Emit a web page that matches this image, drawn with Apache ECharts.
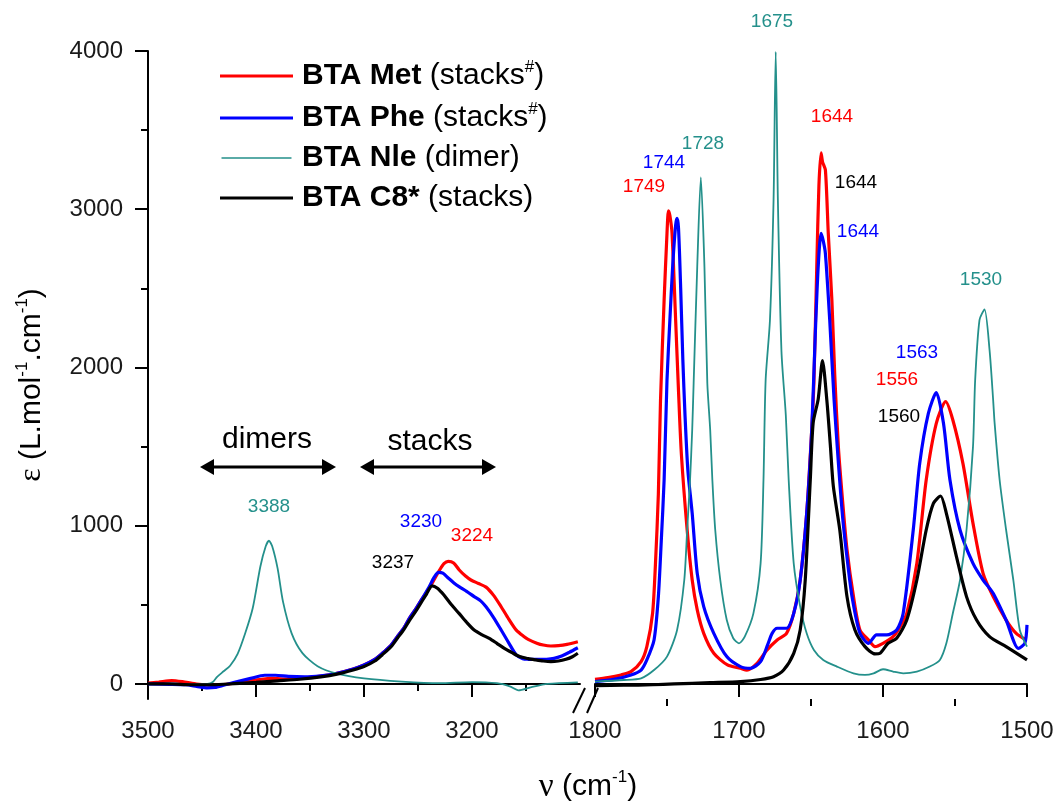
<!DOCTYPE html>
<html>
<head>
<meta charset="utf-8">
<script src="https://cdn.jsdelivr.net/npm/echarts@6/dist/echarts.min.js"></script>
<style>html,body{margin:0;padding:0;background:#fff}#c{width:1059px;height:807px}</style>
</head>
<body>
<div id="c"></div>
<script>
// ---------- DATA ----------
const seriesNames = ['BTA Met', 'BTA Phe', 'BTA Nle', 'BTA C8*'];
const nhTicks = [3500, 3400, 3300, 3200];
const nhMinorTicks = [3450, 3350, 3250, 3150];
const amideTicks = [1800, 1700, 1600, 1500];
const amideMinorTicks = [1750, 1650, 1550];
const yTicks = [0, 1000, 2000, 3000, 4000];
const yMinorTicks = [500, 1500, 2500, 3500];

// N-H stretching region [wavenumber, epsilon]
const metNH = [[3500,5],[3490,12],[3478,22],[3466,12],[3455,0],[3440,-8],[3425,0],[3410,15],[3395,30],[3385,35],[3370,30],[3355,38],[3340,50],[3325,68],[3310,95],[3300,120],[3290,155],[3283,194],[3275,245],[3269,300],[3263,355],[3258,415],[3252,475],[3247,530],[3240,600],[3235,660],[3230,720],[3226,760],[3222,775],[3217,765],[3212,722],[3206,682],[3201,657],[3194,635],[3187,612],[3180,560],[3173,488],[3166,410],[3159,340],[3152,300],[3148,282],[3140,258],[3134,246],[3127,240],[3120,242],[3112,250],[3102,267]];
const pheNH = [[3500,0],[3480,-2],[3465,-5],[3455,-15],[3445,-25],[3438,-22],[3430,-8],[3420,10],[3405,35],[3392,55],[3382,55],[3370,48],[3355,45],[3340,52],[3325,68],[3310,95],[3300,120],[3290,155],[3283,194],[3275,245],[3269,300],[3263,355],[3258,415],[3252,475],[3247,530],[3240,610],[3235,675],[3231,705],[3227,700],[3222,670],[3217,640],[3212,615],[3205,585],[3198,552],[3192,525],[3187,488],[3180,420],[3173,341],[3166,260],[3159,183],[3153,160],[3148,156],[3140,155],[3131,156],[3124,162],[3117,177],[3110,200],[3102,229]];
const nleNH = [[3500,0],[3480,0],[3460,-2],[3445,0],[3440,12],[3436,45],[3430,80],[3424,115],[3417,190],[3410,320],[3403,480],[3396,741],[3391,870],[3388,905],[3385,870],[3380,730],[3375,520],[3367,320],[3357,195],[3343,112],[3325,65],[3300,35],[3265,15],[3230,5],[3200,12],[3177,5],[3165,-15],[3157,-40],[3145,-20],[3130,0],[3102,10]];
const c8NH = [[3500,0],[3480,0],[3460,-5],[3440,-5],[3420,2],[3400,10],[3380,20],[3360,30],[3340,45],[3325,62],[3310,88],[3300,110],[3290,145],[3283,185],[3275,235],[3269,290],[3263,345],[3258,400],[3252,460],[3247,515],[3242,570],[3237,620],[3232,605],[3226,562],[3219,500],[3212,446],[3205,390],[3198,341],[3191,312],[3184,288],[3177,257],[3170,225],[3163,198],[3156,173],[3148,160],[3141,152],[3134,145],[3127,141],[3120,145],[3113,156],[3107,172],[3102,194]];

// Amide region [wavenumber, epsilon]
const metAmide = [[1800,29],[1791,40],[1782,57],[1775,78],[1768,141],[1764,236],[1760,447],[1758,762],[1756,1200],[1754.5,1794],[1752,2426],[1750,2848],[1749,2990],[1748,2960],[1746.5,2848],[1744,2300],[1742,1850],[1740,1450],[1736,973],[1732.5,657],[1729,468],[1724.5,320],[1717.5,194],[1708,120],[1699,99],[1694.5,88],[1687.5,130],[1680.5,215],[1673.5,278],[1667,320],[1662,446],[1657.5,657],[1653,1078],[1649.5,1605],[1648,1900],[1646,2637],[1644.5,3150],[1643,3357],[1642,3300],[1640,3248],[1638,2847],[1635.5,2426],[1633.5,1950],[1631,1500],[1628,1150],[1625,850],[1620.5,552],[1616,341],[1610,278],[1605.5,236],[1600,257],[1593,299],[1588,362],[1583.5,446],[1576.5,762],[1570,1289],[1563,1647],[1556.5,1784],[1551.5,1668],[1544.5,1394],[1537.5,1015],[1530.5,699],[1523.5,552],[1514.5,404],[1507.5,320],[1500.5,278]];
const pheAmide = [[1800,15],[1787,29],[1775,57],[1768,88],[1764,152],[1759,278],[1756,552],[1754,900],[1752,1289],[1750,1921],[1748,2300],[1746,2650],[1744,2900],[1743,2942],[1742,2880],[1740.5,2500],[1739,2050],[1737.5,1700],[1735.5,1350],[1732.5,1078],[1729,699],[1724.5,489],[1717.5,320],[1708.5,173],[1699,110],[1692,99],[1685,141],[1680,250],[1677,320],[1673.5,352],[1667,352],[1662,446],[1657.5,657],[1653,1078],[1649.5,1605],[1647,2216],[1645,2637],[1643,2847],[1641.5,2800],[1640,2720],[1637,2300],[1634,1800],[1631,1400],[1628,1050],[1625,800],[1621.5,552],[1616,320],[1610,257],[1604.5,310],[1597.5,310],[1590.5,341],[1586,446],[1579,973],[1574.5,1394],[1568.5,1710],[1563,1841],[1558,1647],[1553.5,1289],[1546.5,973],[1537.5,762],[1530.5,657],[1523.5,573],[1514.5,404],[1506,225],[1501.5,257],[1500,373]];
const nleAmide = [[1800,15],[1780,25],[1768,36],[1759,88],[1750,173],[1743,341],[1738,657],[1736,973],[1734,1289],[1732.5,1605],[1731.5,1900],[1729,2637],[1726.5,3201],[1724,2637],[1722,1900],[1720,1605],[1718.5,1289],[1716.5,973],[1713,657],[1708.5,404],[1704,289],[1700,257],[1696,299],[1690,446],[1685,762],[1683,1289],[1681.5,1921],[1678.5,2300],[1676,3058],[1674.5,3995],[1673,3058],[1670.5,2100],[1667.5,1700],[1665.5,1289],[1662,762],[1657.5,489],[1653,320],[1648,215],[1641.5,152],[1632,110],[1620.5,67],[1612.5,57],[1606.5,67],[1600,93],[1593,78],[1586,67],[1576.5,78],[1567.5,110],[1560.5,152],[1556,257],[1551.5,447],[1546.5,657],[1542,973],[1537.5,1500],[1536,1921],[1533,2300],[1529.5,2367],[1526,2110],[1523.5,1794],[1522.5,1650],[1519,1289],[1514.5,973],[1509.5,657],[1505,341],[1500,236]];
const c8Amide = [[1800,-10],[1780,-8],[1760,-5],[1745,0],[1720,8],[1699,15],[1685,28],[1676,46],[1669,88],[1662,194],[1657.5,341],[1654,657],[1650.5,1289],[1648.5,1650],[1645,1800],[1642,2043],[1639,1794],[1636.5,1500],[1634.5,1250],[1630,973],[1625,552],[1619.5,341],[1612.5,236],[1605.5,190],[1602,194],[1596.5,257],[1590.5,289],[1583.5,404],[1576.5,657],[1570,973],[1565,1141],[1560,1188],[1556,1078],[1549,805],[1542,552],[1535,404],[1526,299],[1514.5,236],[1500,152]];

// ---------- STYLE / LAYOUT ----------
const COLORS = ['#ff0000', '#0000ff', '#24908b', '#000000'];
const WIDTHS = [3.2, 3.2, 1.8, 3.2];
const FONT = 'Liberation Sans, Arial, sans-serif';
const SERIF = 'Liberation Serif, Times New Roman, serif';
const G = { top: 51, height: 648, leftA: 148, widthA: 432, leftB: 595, widthB: 432 };
const Y_MIN = -95, Y_MAX = 4000;

const legendText = {
  'BTA Met': '{b|BTA Met}{n| (stacks}{s|#}{n|)}',
  'BTA Phe': '{b|BTA Phe}{n| (stacks}{s|#}{n|)}',
  'BTA Nle': '{b|BTA Nle}{n| (dimer)}',
  'BTA C8*': '{b|BTA C8*}{n| (stacks)}'
};

const peakLabels = [
  { t: '1675', c: 2, x: 772, y: 22 },
  { t: '1728', c: 2, x: 703, y: 144 },
  { t: '1744', c: 1, x: 664, y: 163 },
  { t: '1749', c: 0, x: 644, y: 187 },
  { t: '1644', c: 0, x: 832, y: 117 },
  { t: '1644', c: 3, x: 856, y: 183 },
  { t: '1644', c: 1, x: 858, y: 232 },
  { t: '1530', c: 2, x: 981, y: 280 },
  { t: '1563', c: 1, x: 917, y: 353 },
  { t: '1556', c: 0, x: 897, y: 380 },
  { t: '1560', c: 3, x: 899, y: 417 },
  { t: '3388', c: 2, x: 269, y: 507 },
  { t: '3230', c: 1, x: 421, y: 522 },
  { t: '3224', c: 0, x: 472, y: 536 },
  { t: '3237', c: 3, x: 393, y: 563 }
];

const chart = echarts.init(document.getElementById('c'), null, { renderer: 'canvas' });

const axisLine = { show: true, lineStyle: { color: '#000', width: 2 } };
const labelStyle = { color: '#1a1a1a', fontSize: 24, fontFamily: FONT, formatter: v => String(v) };

function xMain(gi, min, max, ticks) {
  return {
    type: 'value', gridIndex: gi, position: 'bottom', min: min, max: max, inverse: true,
    axisLine: axisLine,
    axisTick: { show: true, inside: false, length: 13, lineStyle: { color: '#000', width: 2 }, customValues: ticks },
    axisLabel: Object.assign({ margin: 20, customValues: ticks }, labelStyle),
    splitLine: { show: false }
  };
}
function xMinor(gi, min, max, ticks) {
  return {
    type: 'value', gridIndex: gi, position: 'bottom', min: min, max: max, inverse: true,
    axisLine: { show: false },
    axisTick: { show: true, inside: false, length: 7, lineStyle: { color: '#000', width: 2 }, customValues: ticks },
    axisLabel: { show: false, customValues: ticks },
    splitLine: { show: false }
  };
}

const series = [];
const nhData = [metNH, pheNH, nleNH, c8NH];
const amData = [metAmide, pheAmide, nleAmide, c8Amide];
seriesNames.forEach((n, i) => {
  series.push({
    name: n, type: 'line', xAxisIndex: 0, yAxisIndex: 0, data: nhData[i],
    showSymbol: false, smooth: 0.25, color: COLORS[i],
    lineStyle: { color: COLORS[i], width: WIDTHS[i] }, z: 2 + i, silent: true
  });
  series.push({
    name: n, type: 'line', xAxisIndex: 2, yAxisIndex: 2, data: amData[i],
    showSymbol: false, smooth: 0.25, color: COLORS[i],
    lineStyle: { color: COLORS[i], width: WIDTHS[i] }, z: 2 + i, silent: true
  });
});

const graphics = [];
// axis break marks
graphics.push({ type: 'line', shape: { x1: 573, y1: 713, x2: 585, y2: 688 }, style: { stroke: '#000', lineWidth: 2 }, z: 100 });
graphics.push({ type: 'line', shape: { x1: 587, y1: 713, x2: 598, y2: 688 }, style: { stroke: '#000', lineWidth: 2 }, z: 100 });
// peak labels
peakLabels.forEach(p => {
  graphics.push({ type: 'text', x: p.x, y: p.y, z: 100,
    style: { text: p.t, fill: COLORS[p.c], font: '19px ' + FONT, align: 'center', verticalAlign: 'middle' } });
});
// dimers / stacks annotations
function arrow(x1, x2, y) {
  const h = 14, w = 8;
  graphics.push({ type: 'line', shape: { x1: x1 + 6, y1: y, x2: x2 - 6, y2: y }, style: { stroke: '#000', lineWidth: 3 }, z: 100 });
  graphics.push({ type: 'polygon', shape: { points: [[x1, y], [x1 + h, y - w], [x1 + h, y + w]] }, style: { fill: '#000' }, z: 100 });
  graphics.push({ type: 'polygon', shape: { points: [[x2, y], [x2 - h, y - w], [x2 - h, y + w]] }, style: { fill: '#000' }, z: 100 });
}
arrow(200, 336, 467);
arrow(360, 496, 467);
graphics.push({ type: 'text', x: 267, y: 440, z: 100, style: { text: 'dimers', fill: '#000', font: '30px ' + FONT, align: 'center', verticalAlign: 'middle' } });
graphics.push({ type: 'text', x: 430, y: 442, z: 100, style: { text: 'stacks', fill: '#000', font: '30px ' + FONT, align: 'center', verticalAlign: 'middle' } });
// axis titles
const supStyle = { fontSize: 17, fontFamily: FONT, fill: '#000', verticalAlign: 'top', lineHeight: 16 };
graphics.push({ type: 'text', x: 32, y: 385, rotation: Math.PI / 2, z: 100,
  style: { text: '{g|ε}{n| (L.mol}{s|-1}{n|.cm}{s|-1}{n|)}', align: 'center', verticalAlign: 'middle',
    rich: { g: { fontSize: 32, fontFamily: SERIF, fill: '#000', lineHeight: 36 }, n: { fontSize: 30, fontFamily: FONT, fill: '#000', lineHeight: 36 }, s: supStyle } } });
graphics.push({ type: 'text', x: 588, y: 787, z: 100,
  style: { text: '{g|ν}{n| (cm}{s|-1}{n|)}', align: 'center', verticalAlign: 'middle',
    rich: { g: { fontSize: 33, fontFamily: SERIF, fill: '#000', lineHeight: 36 }, n: { fontSize: 30, fontFamily: FONT, fill: '#000', lineHeight: 36 }, s: supStyle } } });

chart.setOption({
  animation: false,
  backgroundColor: '#fff',
  grid: [
    { left: G.leftA, top: G.top, width: G.widthA, height: G.height },
    { left: G.leftB, top: G.top, width: G.widthB, height: G.height }
  ],
  xAxis: [
    xMain(0, 3100, 3500, nhTicks),
    xMinor(0, 3100, 3500, nhMinorTicks),
    xMain(1, 1500, 1800, amideTicks),
    xMinor(1, 1500, 1800, amideMinorTicks)
  ],
  yAxis: [
    { type: 'value', gridIndex: 0, position: 'left', min: Y_MIN, max: Y_MAX, axisLine: axisLine,
      axisTick: { show: true, inside: false, length: 13, lineStyle: { color: '#000', width: 2 }, customValues: yTicks },
      axisLabel: Object.assign({ margin: 25, customValues: yTicks }, labelStyle), splitLine: { show: false } },
    { type: 'value', gridIndex: 0, min: Y_MIN, max: Y_MAX, position: 'left', axisLine: { show: false },
      axisTick: { show: true, inside: false, length: 7, lineStyle: { color: '#000', width: 2 }, customValues: yMinorTicks },
      axisLabel: { show: false, customValues: yMinorTicks }, splitLine: { show: false } },
    { type: 'value', gridIndex: 1, min: Y_MIN, max: Y_MAX, show: false, splitLine: { show: false } }
  ],
  legend: {
    show: true, orient: 'vertical', left: 215, top: 54, itemWidth: 73, itemHeight: 3, itemGap: 10,
    selectedMode: false,
    data: [
      { name: 'BTA Met', icon: 'rect' },
      { name: 'BTA Phe', icon: 'rect' },
      { name: 'BTA Nle', icon: 'path://M0,0.7H70V2.3H0Z M0,0H0.001V0.001H0Z M0,3H0.001V3.001H0Z' },
      { name: 'BTA C8*', icon: 'rect' }
    ],
    formatter: n => legendText[n],
    textStyle: {
      padding: [0, 0, 0, 4],
      rich: {
        b: { fontSize: 30, fontWeight: 'bold', fontFamily: FONT, color: '#000', lineHeight: 34 },
        n: { fontSize: 30, fontFamily: FONT, color: '#000', lineHeight: 34 },
        s: { fontSize: 17, fontFamily: FONT, color: '#000', verticalAlign: 'top', lineHeight: 16 }
      }
    }
  },
  series: series,
  graphic: graphics
});
</script>
</body>
</html>
